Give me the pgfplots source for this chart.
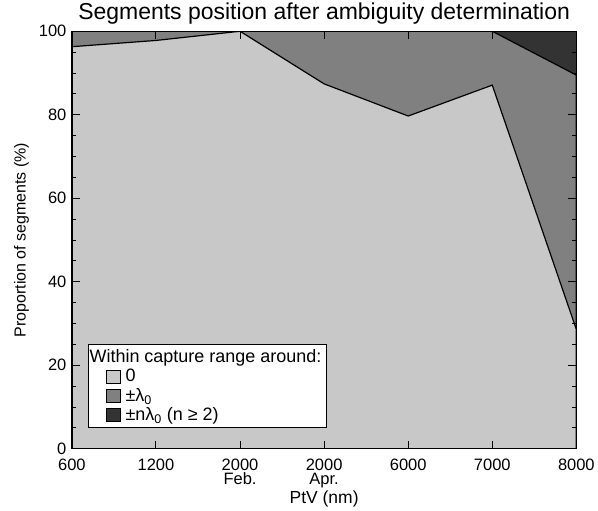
\documentclass[border=0pt]{standalone}
\usepackage{pgfplots}
\pgfplotsset{compat=1.18}
\usepackage{fontspec}
\setmainfont{Liberation Sans}
\definecolor{lightg}{RGB}{200,200,200}
\definecolor{midg}{RGB}{128,128,128}
\definecolor{darkg}{RGB}{51,51,51}
\newcommand{\tlf}{\fontsize{16.5}{14}\selectfont}
\begin{document}
\begin{tikzpicture}
\begin{axis}[
    scale only axis,
    width=505pt, height=418pt,
    axis on top,
    xmin=0, xmax=6, ymin=0, ymax=100,
    xtick={0,1,2,3,4,5,6},
    xticklabels={600,1200,{2000\\\tlf Feb.},{2000\\\tlf Apr.},6000,7000,8000},
    tick label style={font=\tlf},
    xticklabel style={align=center, yshift=-7pt},
    ytick={0,20,40,60,80,100},
    minor y tick num=3,
    yticklabel style={xshift=-2pt},
    /pgf/number format/assume math mode=true,
    xtick pos=both, ytick pos=both,
    tick align=inside,
    major tick length=8pt, minor tick length=4pt,
    every tick/.style={black, line width=1pt},
    axis line style={line width=1.2pt},
    axis background/.style={fill=darkg},
    title={Segments position after ambiguity determination},
    title style={font=\fontsize{23}{23}\selectfont, yshift=-3pt},
    xlabel={PtV (nm)},
    ylabel={Proportion of segments (\%)},
    xlabel style={font=\fontsize{17.5}{17.5}\selectfont, yshift=4pt},
    ylabel style={font=\fontsize{16}{16}\selectfont, yshift=3pt},
    legend cell align=left,
    legend style={at={(rel axis cs:0.032,0.050)}, anchor=south west,
        font=\fontsize{18}{18}\selectfont, draw=black, line width=1pt,
        row sep=1pt, inner xsep=3pt, inner ysep=3pt},
    legend image code/.code={\path (0pt,0pt) (31pt,0pt);
        \draw[#1, line width=0.6pt, draw=black] (14pt,-6.5pt) rectangle (28pt,6.5pt);},
]
\addlegendimage{empty legend}
\addlegendentry{\hspace*{-36pt}Within capture range around:}
\addplot[fill=midg, draw=black, line width=1.2pt, forget plot] coordinates {
(0,100)(1,100)(2,100)(3,100)(4,100)(5,100)(6,89.5)
} \closedcycle;
\addplot[fill=lightg, draw=black, line width=1.2pt, forget plot] coordinates {
(0,96.3)(1,97.8)(2,100)(3,87.4)(4,79.7)(5,87.1)(6,28.6)
} \closedcycle;
\addlegendimage{fill=lightg}
\addlegendentry{0}
\addlegendimage{fill=midg}
\addlegendentry{±λ\textsubscript{0}}
\addlegendimage{fill=darkg}
\addlegendentry{±nλ\textsubscript{0} (n ≥ 2)}
\end{axis}
\path (current axis.south west) ++(-72pt,-58pt);
\path (current axis.north east) ++(21pt,31pt);
\end{tikzpicture}
\end{document}
